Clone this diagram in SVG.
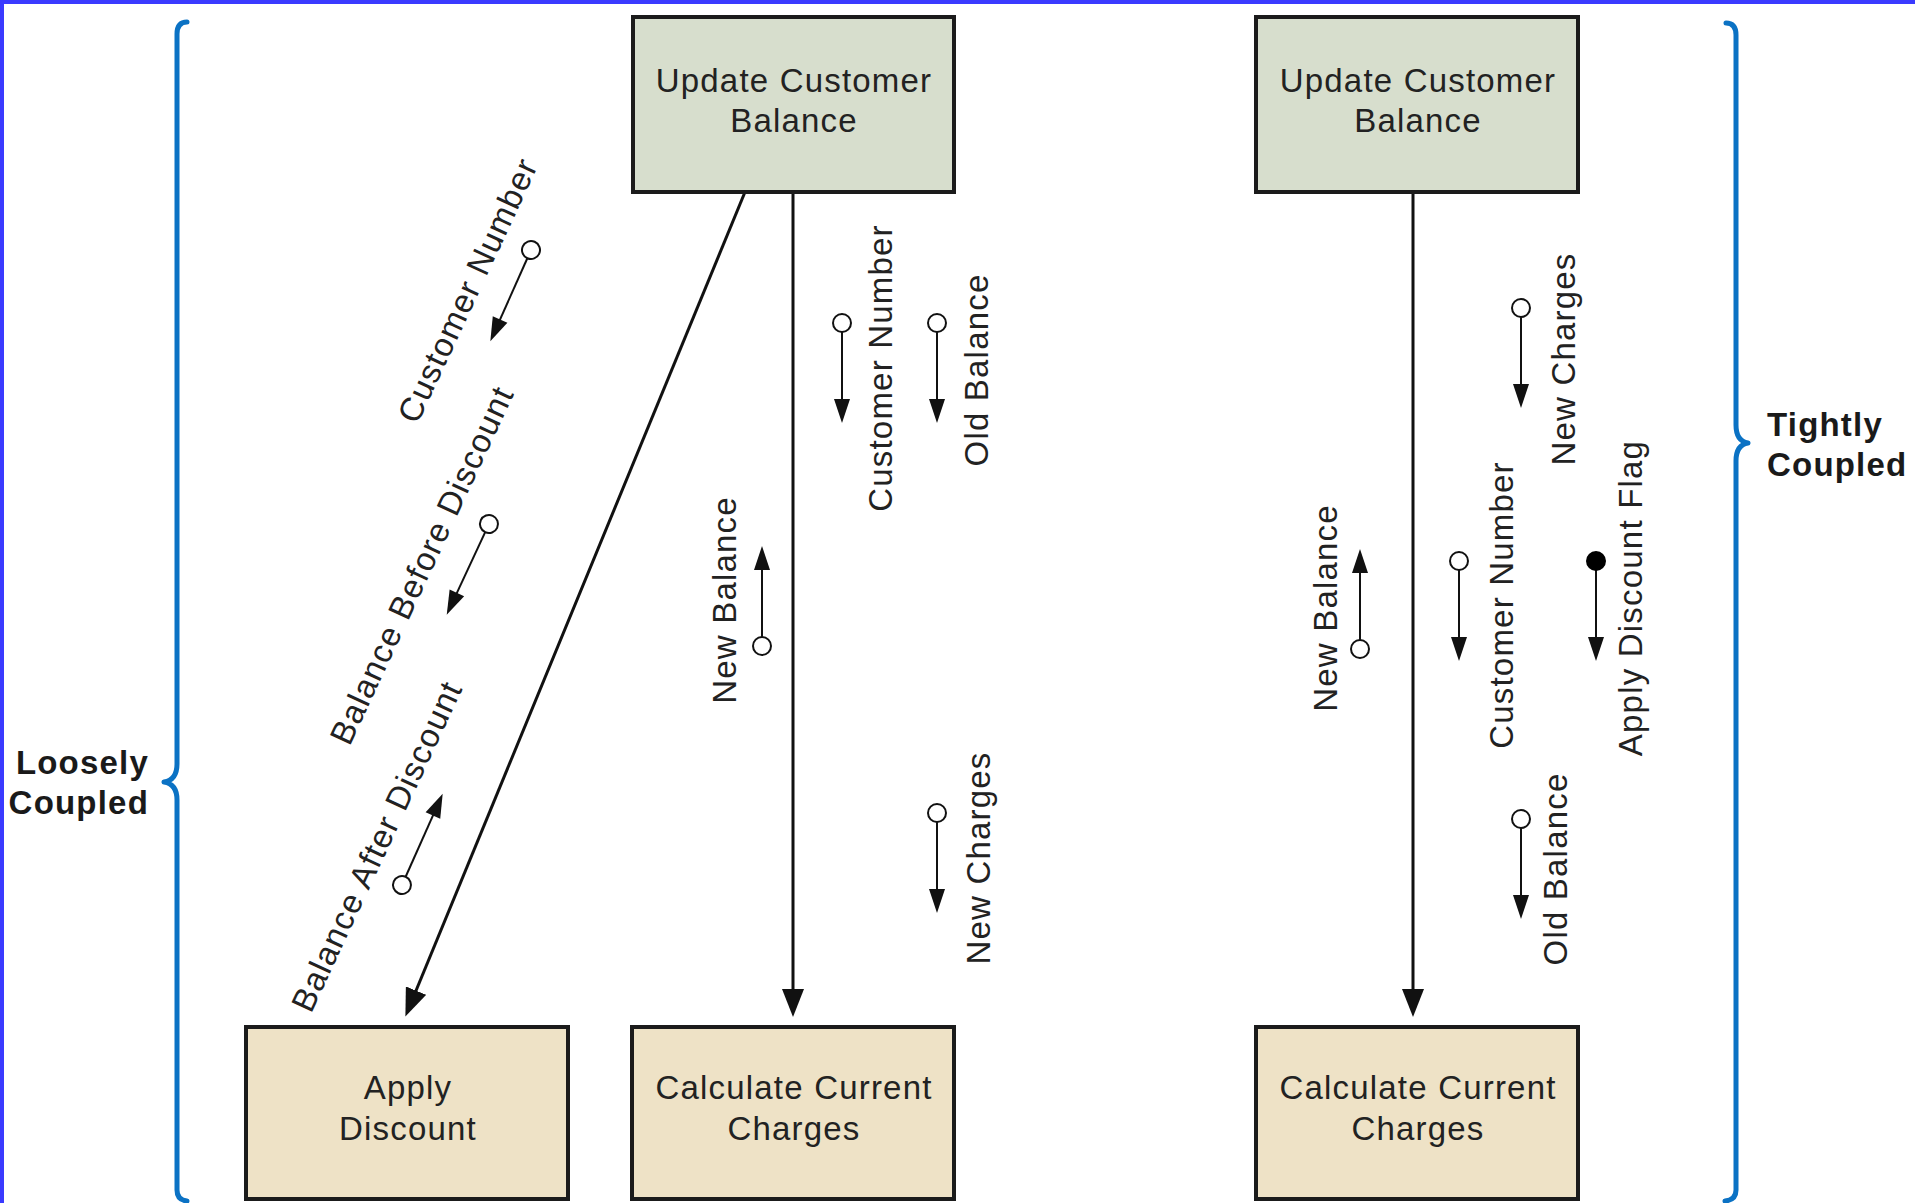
<svg xmlns="http://www.w3.org/2000/svg" xmlns:xlink="http://www.w3.org/1999/xlink" width="1915" height="1203" viewBox="0 0 1915 1203">
  <style>
    .box-top { fill: #D7DECD; stroke: #1b1b1b; stroke-width: 4; }
    .box-bot { fill: #EEE2C6; stroke: #1b1b1b; stroke-width: 4; }
    .lbl { font-family: "Liberation Sans", Arial, sans-serif; font-size: 33px; fill: #222; letter-spacing: 1.2px; }
    .mid { text-anchor: middle; }
    .grp { font-family: "Liberation Sans", Arial, sans-serif; font-size: 33px; font-weight: bold; fill: #1a1a1a; letter-spacing: 1.2px; }
    .conn { stroke: #111; stroke-width: 3; fill: none; }
    .brace { stroke: #0B72C4; stroke-width: 5; fill: none; stroke-linecap: round; stroke-linejoin: round; }
    .dc-line { stroke: #111; stroke-width: 2; }
    .dc-circ { fill: #fff; stroke: #111; stroke-width: 2; }
    .dc-flag { fill: #000; stroke: #000; stroke-width: 2; }
  </style>
  <defs>
    <marker id="ah" markerUnits="userSpaceOnUse" markerWidth="28" markerHeight="22" refX="8" refY="11" orient="auto">
      <path d="M0,0 L28,11 L0,22 Z" fill="#111"/>
    </marker>
    <g id="dc">
      <circle class="dc-circ" cx="0" cy="0" r="9"/>
      <line class="dc-line" x1="0" y1="9" x2="0" y2="82"/>
      <path d="M-8,76 L8,76 L0,100 Z" fill="#111"/>
    </g>
    <g id="dcf">
      <line class="dc-line" x1="0" y1="9" x2="0" y2="82"/>
      <circle class="dc-flag" cx="0" cy="0" r="9"/>
      <path d="M-8,76 L8,76 L0,100 Z" fill="#111"/>
    </g>
  </defs>

  <rect x="0" y="0" width="1915" height="1203" fill="#fff"/>
  <rect x="0" y="0" width="1915" height="4" fill="#3A3AFF"/>
  <rect x="0" y="0" width="4" height="1203" fill="#3A3AFF"/>

  <!-- Braces and group labels -->
  <g id="loosely-coupled">
    <path class="brace" d="M187 22 Q177 22 177 34 L177 764 Q177 780 164 782 Q177 784 177 800 L177 1190 Q177 1200 187 1201"/>
    <text class="grp" x="149" y="774" text-anchor="end">Loosely</text>
    <text class="grp" x="149" y="814" text-anchor="end">Coupled</text>
  </g>
  <g id="tightly-coupled">
    <path class="brace" d="M1726 23 Q1736 23 1736 35 L1736 425 Q1736 441 1748 443 Q1736 445 1736 461 L1736 1190 Q1736 1200 1725 1201"/>
    <text class="grp" x="1767" y="436">Tightly</text>
    <text class="grp" x="1767" y="476">Coupled</text>
  </g>

  <!-- Connectors -->
  <g id="connectors">
    <line class="conn" x1="745" y1="192" x2="413" y2="998" marker-end="url(#ah)"/>
    <line class="conn" x1="793" y1="192" x2="793" y2="997" marker-end="url(#ah)"/>
    <line class="conn" x1="1413" y1="192" x2="1413" y2="997" marker-end="url(#ah)"/>
  </g>

  <!-- Left diagram nodes -->
  <g id="update-balance-left">
    <rect class="box-top" x="633" y="17" width="321" height="175"/>
    <text class="lbl mid" x="794" y="92">Update Customer</text>
    <text class="lbl mid" x="794" y="132">Balance</text>
  </g>
  <g id="apply-discount">
    <rect class="box-bot" x="246" y="1027" width="322" height="172"/>
    <text class="lbl mid" x="408" y="1099">Apply</text>
    <text class="lbl mid" x="408" y="1140">Discount</text>
  </g>
  <g id="calc-charges-left">
    <rect class="box-bot" x="632" y="1027" width="322" height="172"/>
    <text class="lbl mid" x="794" y="1099">Calculate Current</text>
    <text class="lbl mid" x="794" y="1140">Charges</text>
  </g>

  <!-- Right diagram nodes -->
  <g id="update-balance-right">
    <rect class="box-top" x="1256" y="17" width="322" height="175"/>
    <text class="lbl mid" x="1418" y="92">Update Customer</text>
    <text class="lbl mid" x="1418" y="132">Balance</text>
  </g>
  <g id="calc-charges-right">
    <rect class="box-bot" x="1256" y="1027" width="322" height="172"/>
    <text class="lbl mid" x="1418" y="1099">Calculate Current</text>
    <text class="lbl mid" x="1418" y="1140">Charges</text>
  </g>

  <!-- Data couples: left diagram -->
  <g id="couples-left">
    <use xlink:href="#dc" href="#dc" transform="translate(531,250) rotate(24)"/>
    <text class="lbl mid" transform="translate(478,295) rotate(-65)">Customer Number</text>

    <use xlink:href="#dc" href="#dc" transform="translate(489,524) rotate(25)"/>
    <text class="lbl mid" transform="translate(432,570) rotate(-65)">Balance Before Discount</text>

    <use xlink:href="#dc" href="#dc" transform="translate(402,885) rotate(204)"/>
    <text class="lbl mid" transform="translate(387,851) rotate(-65)">Balance After Discount</text>

    <use xlink:href="#dc" href="#dc" transform="translate(842,323)"/>
    <text class="lbl mid" transform="translate(892,368) rotate(-90)">Customer Number</text>

    <use xlink:href="#dc" href="#dc" transform="translate(937,323)"/>
    <text class="lbl mid" transform="translate(988,370) rotate(-90)">Old Balance</text>

    <use xlink:href="#dc" href="#dc" transform="translate(762,646) rotate(180)"/>
    <text class="lbl mid" transform="translate(736,600) rotate(-90)">New Balance</text>

    <use xlink:href="#dc" href="#dc" transform="translate(937,813)"/>
    <text class="lbl mid" transform="translate(990,858) rotate(-90)">New Charges</text>
  </g>

  <!-- Data couples: right diagram -->
  <g id="couples-right">
    <use xlink:href="#dc" href="#dc" transform="translate(1521,308)"/>
    <text class="lbl mid" transform="translate(1575,359) rotate(-90)">New Charges</text>

    <use xlink:href="#dc" href="#dc" transform="translate(1459,561)"/>
    <text class="lbl mid" transform="translate(1513,605) rotate(-90)">Customer Number</text>

    <use xlink:href="#dcf" href="#dcf" transform="translate(1596,561)"/>
    <text class="lbl mid" transform="translate(1642,598) rotate(-90)">Apply Discount Flag</text>

    <use xlink:href="#dc" href="#dc" transform="translate(1360,649) rotate(180)"/>
    <text class="lbl mid" transform="translate(1337,608) rotate(-90)">New Balance</text>

    <use xlink:href="#dc" href="#dc" transform="translate(1521,819)"/>
    <text class="lbl mid" transform="translate(1567,869) rotate(-90)">Old Balance</text>
  </g>
</svg>
